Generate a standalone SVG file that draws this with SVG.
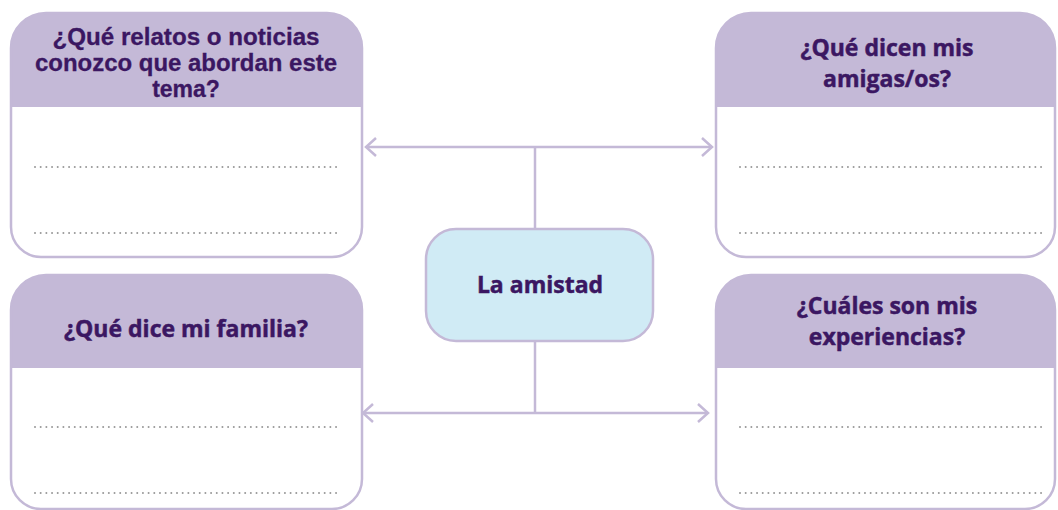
<svg xmlns="http://www.w3.org/2000/svg" width="1058" height="510" viewBox="0 0 1058 510">
  <style>
    .hdr { fill: #c4b9d7; }
    .frame { fill: none; stroke: #c4b9d7; stroke-width: 2.5; }
    .dots { stroke: #999999; stroke-width: 2; stroke-dasharray: 0.01 5.67; stroke-linecap: round; fill: none; }
    .t { font-family: "Open Sans", "Noto Sans", sans-serif; font-weight: 700; font-size: 23px; fill: #3b1762; stroke: #3b1762; stroke-width: 0.5; text-anchor: middle; }
    .tc { font-family: "Liberation Sans", Arial, sans-serif; font-weight: 700; font-size: 23px; fill: #3b1762; stroke: #3b1762; stroke-width: 0.3; text-anchor: middle; }
    .conn { stroke: #c4b9d7; stroke-width: 2.5; fill: none; }
  </style>
  <defs>
    <marker id="chev" viewBox="-12 -11 14 22" refX="0" refY="0" markerWidth="14" markerHeight="22" markerUnits="userSpaceOnUse" orient="auto-start-reverse">
      <path d="M-10,-9 L0,0 L-10,9" fill="none" stroke="#c4b9d7" stroke-width="2.5"/>
    </marker>
  </defs>
  <rect width="1058" height="510" fill="#ffffff"/>

  <g id="connectors">
    <line class="conn" x1="366" y1="147" x2="712" y2="147" marker-start="url(#chev)" marker-end="url(#chev)"/>
    <line class="conn" x1="535" y1="147" x2="535" y2="229"/>
    <line class="conn" x1="363" y1="413" x2="708" y2="413" marker-start="url(#chev)" marker-end="url(#chev)"/>
    <line class="conn" x1="535" y1="341" x2="535" y2="413"/>
  </g>

  <g id="box-relatos">
    <path class="hdr" d="M11,107 V48 A35,35 0 0 1 46,13 H327 A35,35 0 0 1 362,48 V107 Z"/>
    <path class="frame" d="M46,13 H327 A35,35 0 0 1 362,48 V227 A30,30 0 0 1 332,257 H41 A30,30 0 0 1 11,227 V48 A35,35 0 0 1 46,13 Z"/>
    <text class="tc" x="186" y="45" textLength="267" lengthAdjust="spacingAndGlyphs">¿Qué relatos o noticias</text>
    <text class="tc" x="186" y="71" textLength="302" lengthAdjust="spacingAndGlyphs">conozco que abordan este</text>
    <text class="tc" x="186" y="97">tema?</text>
    <line class="dots" x1="35" y1="167" x2="340" y2="167"/>
    <line class="dots" x1="35" y1="233" x2="340" y2="233"/>
  </g>

  <g id="box-amigos">
    <path class="hdr" d="M716,107 V48 A35,35 0 0 1 751,13 H1020 A35,35 0 0 1 1055,48 V107 Z"/>
    <path class="frame" d="M751,13 H1020 A35,35 0 0 1 1055,48 V227 A30,30 0 0 1 1025,257 H746 A30,30 0 0 1 716,227 V48 A35,35 0 0 1 751,13 Z"/>
    <text class="t" x="887" y="56">¿Qué dicen mis<tspan x="887" dy="31">amigas/os?</tspan></text>
    <line class="dots" x1="740" y1="167" x2="1045" y2="167"/>
    <line class="dots" x1="740" y1="233" x2="1045" y2="233"/>
  </g>

  <g id="box-familia">
    <path class="hdr" d="M11,368 V310 A35,35 0 0 1 46,275 H327 A35,35 0 0 1 362,310 V368 Z"/>
    <path class="frame" d="M46,275 H327 A35,35 0 0 1 362,310 V479 A30,30 0 0 1 332,509 H41 A30,30 0 0 1 11,479 V310 A35,35 0 0 1 46,275 Z"/>
    <text class="t" x="186" y="337">¿Qué dice mi familia?</text>
    <line class="dots" x1="35" y1="427" x2="340" y2="427"/>
    <line class="dots" x1="35" y1="493" x2="340" y2="493"/>
  </g>

  <g id="box-experiencias">
    <path class="hdr" d="M716,368 V310 A35,35 0 0 1 751,275 H1020 A35,35 0 0 1 1055,310 V368 Z"/>
    <path class="frame" d="M751,275 H1020 A35,35 0 0 1 1055,310 V479 A30,30 0 0 1 1025,509 H746 A30,30 0 0 1 716,479 V310 A35,35 0 0 1 751,275 Z"/>
    <text class="t" x="887" y="314">¿Cuáles son mis<tspan x="887" dy="31">experiencias?</tspan></text>
    <line class="dots" x1="740" y1="427" x2="1045" y2="427"/>
    <line class="dots" x1="740" y1="493" x2="1045" y2="493"/>
  </g>

  <g id="center">
    <rect x="426" y="229" width="227" height="112" rx="30" ry="30" fill="#d0ebf5" stroke="#c4b9d7" stroke-width="2.5"/>
    <text class="t" x="540" y="293">La amistad</text>
  </g>
</svg>
